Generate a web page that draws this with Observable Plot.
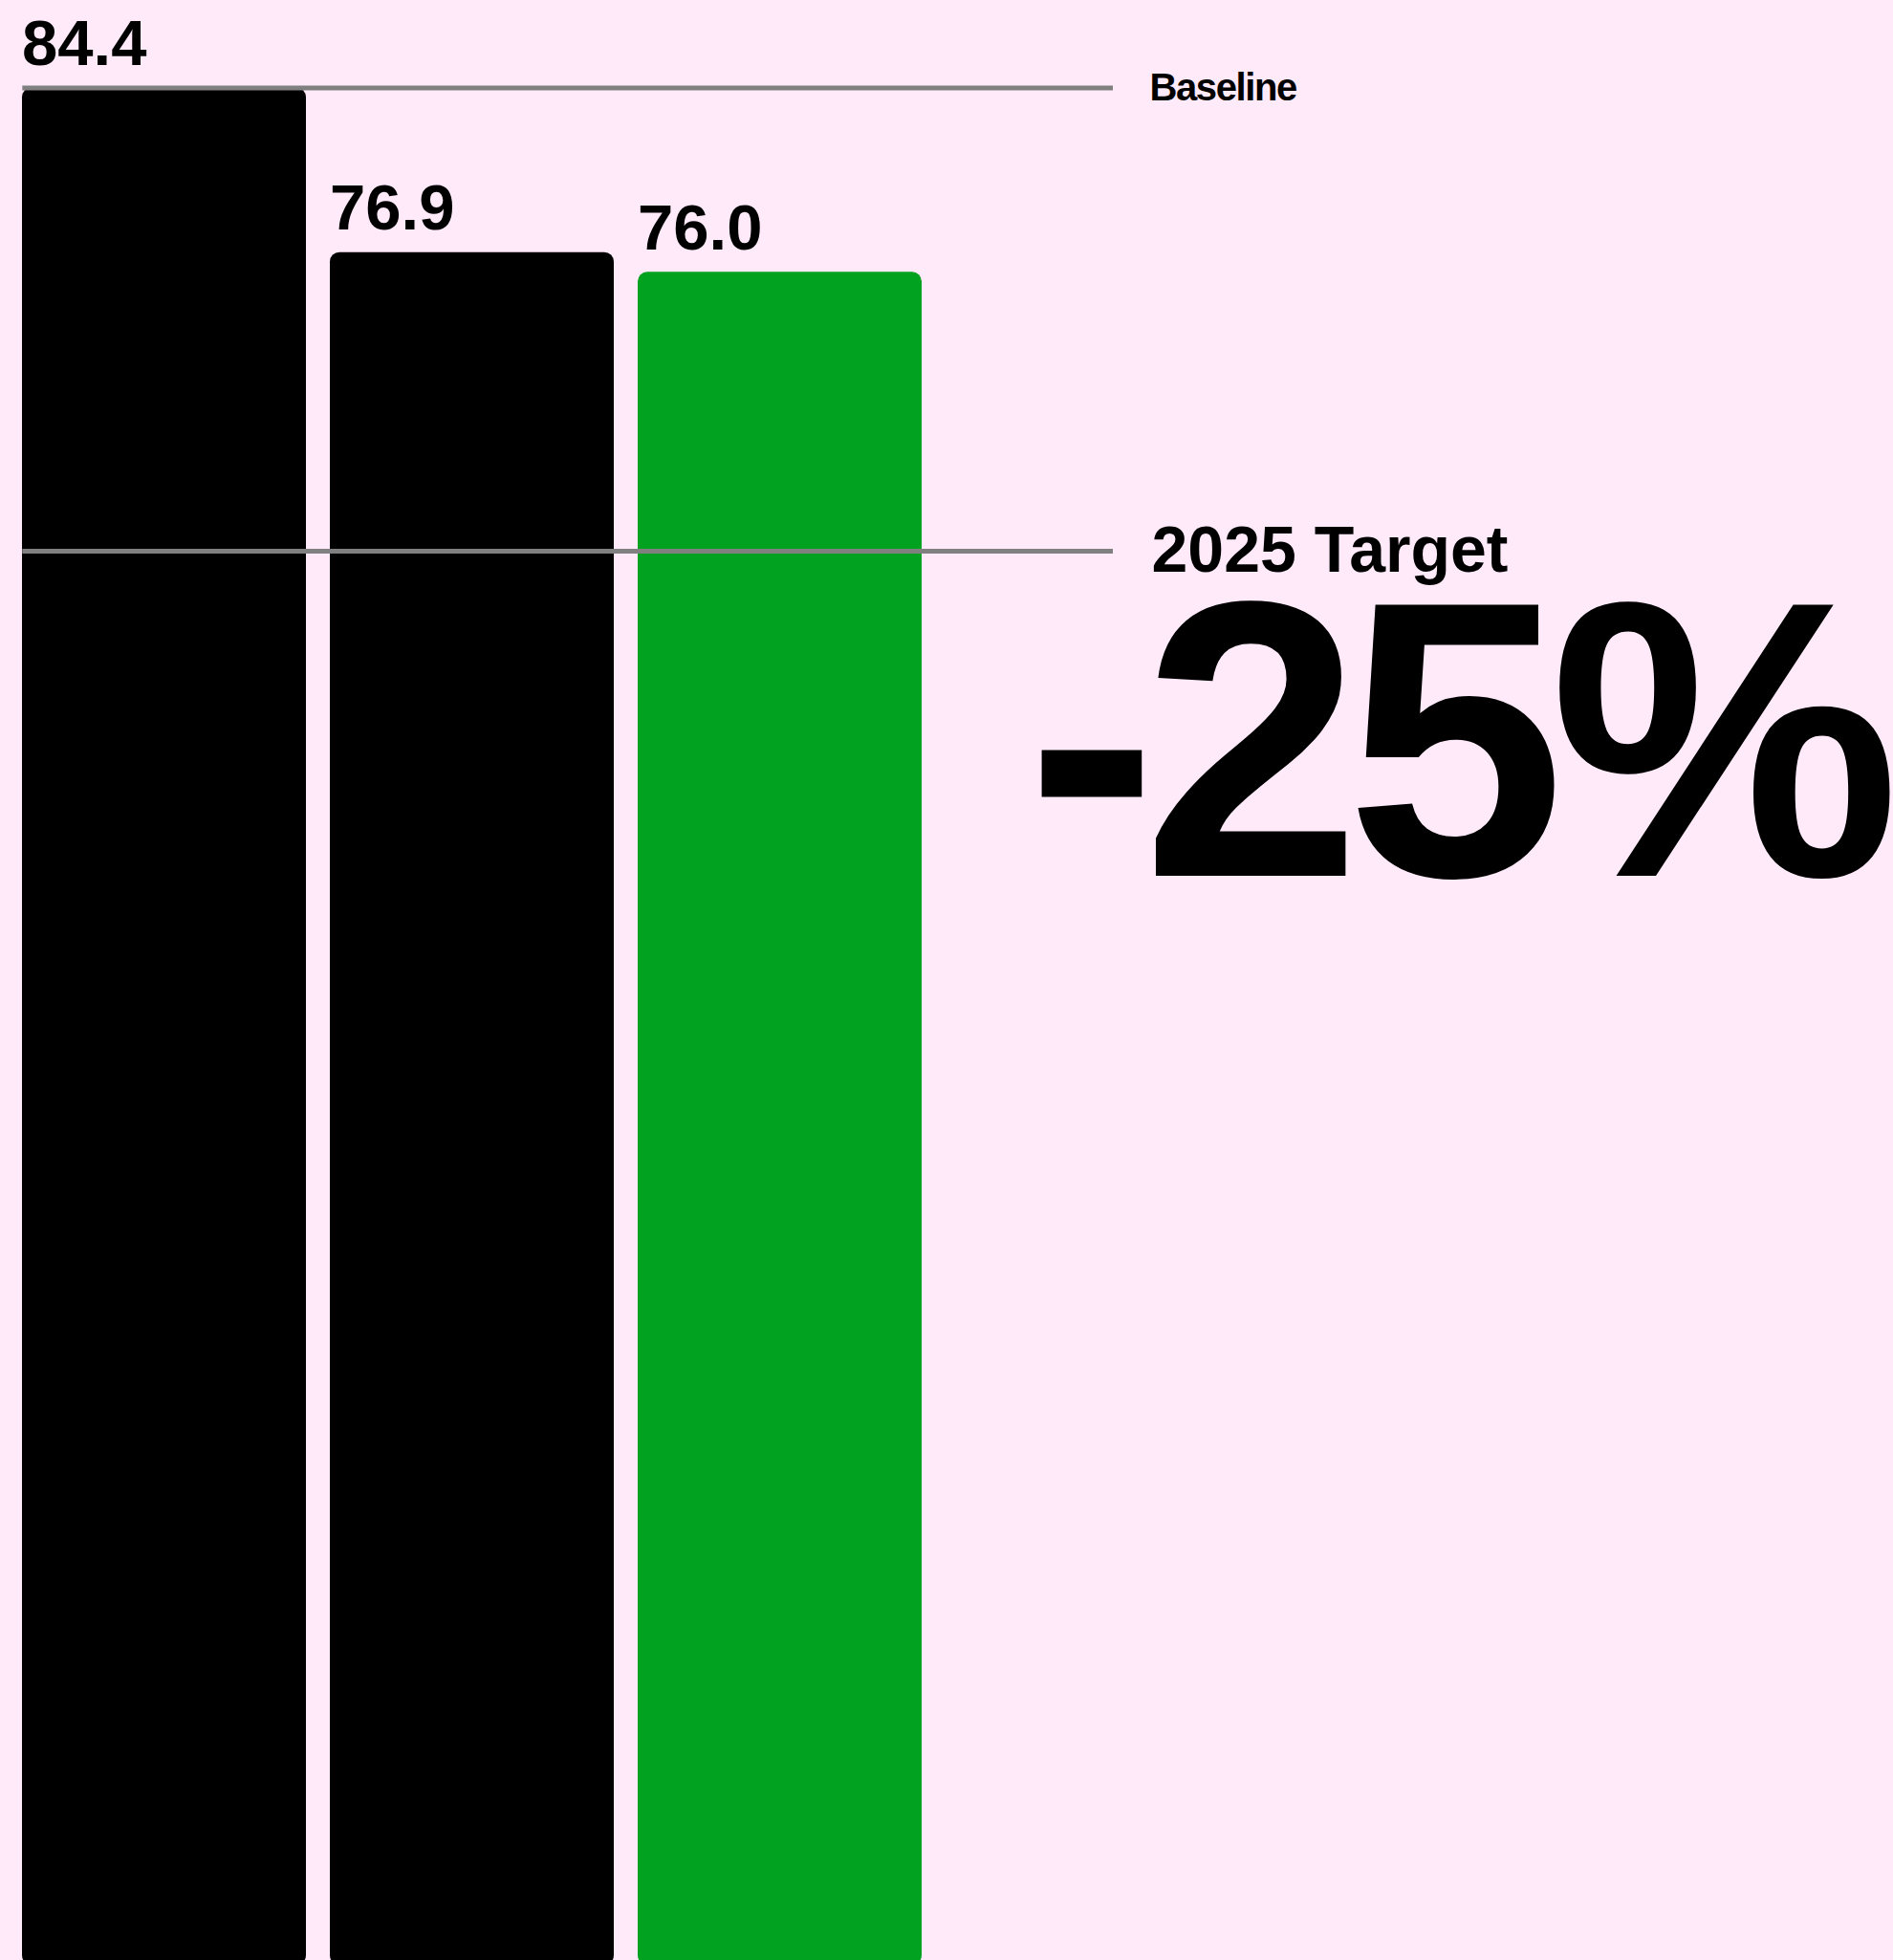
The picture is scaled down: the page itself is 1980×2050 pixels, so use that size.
<!DOCTYPE html>
<html>
<head>
<meta charset="utf-8">
<script src="https://cdn.jsdelivr.net/npm/d3@7"></script>
<script src="https://cdn.jsdelivr.net/npm/@observablehq/plot@0.6"></script>
<style>
  html, body { margin: 0; padding: 0; background: #ffeafa; }
  #chart svg { display: block; }
</style>
</head>
<body>
<div id="chart"></div>
<script>
// ---- data ----
const categories = ["Baseline year", "Previous year", "Current year"];
const values = [84.4, 76.9, 76.0];
const highlightCategory = "Current year";
const refValues = [84.4, 63.3];
const refLabels = ["Baseline", "2025 Target"];

// ---- derived tables ----
const bars = categories.map((c, i) => ({cat: c, value: values[i]}));
const refs = refValues.map((v, i) => ({value: v, label: refLabels[i]}));
const changePct = Math.round((refValues[1] / refValues[0] - 1) * 100);
const changeLabel = `${changePct}%`;

const W = 1980, H = 2050;
const FONT = "'Liberation Sans', Arial, Helvetica, sans-serif";
const GREEN = "#00a220", BLACK = "#000000", GREY = "#808080";

const chart = Plot.plot({
  width: W,
  height: H,
  marginLeft: 23.3,
  marginRight: W - 1164,
  marginTop: 0,
  marginBottom: 0,
  style: {background: "#ffeafa", fontFamily: FONT},
  x: {domain: categories, range: [23.3, 965], paddingInner: 0.0764, paddingOuter: 0, axis: null},
  y: {domain: [0, 84.4], range: [2029, 91.5], axis: null},
  color: {type: "identity"},
  marks: [
    Plot.barY(bars, {
      x: "cat", y: "value",
      fill: d => d.cat === highlightCategory ? GREEN : BLACK,
      rx: 10, insetBottom: -26
    }),
    Plot.ruleY(refs, {y: "value", stroke: GREY, strokeWidth: 5}),
    Plot.text(bars, {
      x: "cat", y: "value", text: d => d.value.toFixed(1),
      textAnchor: "start", lineAnchor: "bottom", dx: -149, dy: -24,
      fontSize: 67, fontWeight: "bold", fill: BLACK
    }),
    Plot.text(refs.filter((d, i) => i === 0), {
      y: "value", text: "label", frameAnchor: "right", textAnchor: "start",
      lineAnchor: "middle", dx: 38, fontSize: 40, fontWeight: "bold", fill: BLACK
    }),
    Plot.text(refs.filter((d, i) => i === 1), {
      y: "value", text: "label", frameAnchor: "right", textAnchor: "start",
      lineAnchor: "middle", dx: 40, fontSize: 68, fontWeight: "bold", fill: BLACK
    }),
    Plot.text([changeLabel], {
      y: refValues[1], text: d => d, frameAnchor: "right", textAnchor: "start",
      lineAnchor: "bottom", dx: -91, dy: 339.5, fontSize: 412, fontWeight: "bold",
      fill: BLACK
    })
  ]
});

d3.select(chart).selectAll("text").each(function () {
  const t = this.textContent;
  if (t === refLabels[0]) {
    this.setAttribute("letter-spacing", "-1.4");
    this.style.letterSpacing = "-1.4px";
  } else if (t === changeLabel) {
    this.setAttribute("letter-spacing", "-16");
    this.style.letterSpacing = "-16px";
  }
});
document.getElementById("chart").appendChild(chart);
</script>
</body>
</html>
